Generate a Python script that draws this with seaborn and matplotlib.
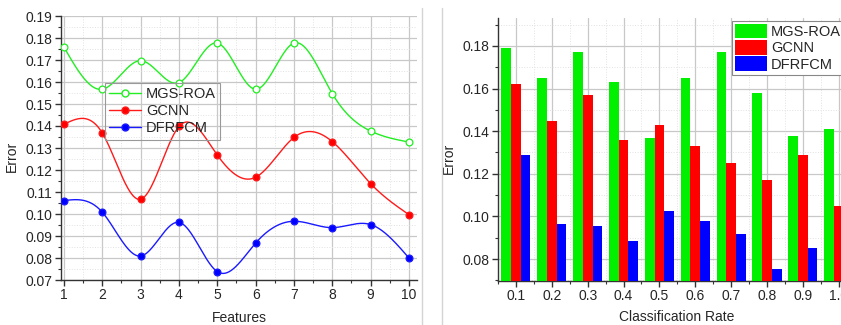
import matplotlib
matplotlib.use('Agg')
import matplotlib.pyplot as plt
from matplotlib.lines import Line2D
from matplotlib.patches import Patch
from matplotlib.ticker import MultipleLocator, FormatStrFormatter
import numpy as np
import pandas as pd
import seaborn as sns

# duomenys - kairysis grafikas (Features)
features = np.arange(1, 11)
mgs_roa_line = [0.1758, 0.1567, 0.1697, 0.1597, 0.1777, 0.1567, 0.1777, 0.1547, 0.1377, 0.1327]
gcnn_line = [0.1408, 0.1368, 0.1067, 0.1398, 0.1268, 0.1167, 0.1348, 0.1329, 0.1138, 0.0997]
dfrfcm_line = [0.1061, 0.1008, 0.0809, 0.0962, 0.0738, 0.0868, 0.0967, 0.0938, 0.0952, 0.0800]

# duomenys - desinysis grafikas (Classification Rate)
rates = ['0.1', '0.2', '0.3', '0.4', '0.5', '0.6', '0.7', '0.8', '0.9', '1.0']
mgs_roa_bar = [0.1789, 0.1648, 0.1770, 0.1630, 0.1369, 0.1648, 0.1770, 0.1578, 0.1378, 0.1410]
gcnn_bar = [0.1619, 0.1450, 0.1569, 0.1359, 0.1430, 0.1330, 0.1250, 0.1170, 0.1290, 0.1050]
dfrfcm_bar = [0.1289, 0.0966, 0.0953, 0.0884, 0.1027, 0.0980, 0.0917, 0.0753, 0.0852, 0.0880]

metodai = ['MGS-ROA', 'GCNN', 'DFRFCM']
spalvos = {'MGS-ROA': '#00f000', 'GCNN': '#ff0000', 'DFRFCM': '#0000ff'}
linijos_spalvos = {'MGS-ROA': '#22ee22', 'GCNN': '#ff1a1a', 'DFRFCM': '#1a1aff'}


def spline(x, y, n=400):
    # naturalus kubinis splainas (kreives glotninimui)
    x = np.asarray(x, float)
    y = np.asarray(y, float)
    k = len(x)
    h = np.diff(x)
    A = np.zeros((k, k))
    b = np.zeros(k)
    A[0, 0] = A[-1, -1] = 1
    for i in range(1, k - 1):
        A[i, i - 1] = h[i - 1]
        A[i, i] = 2 * (h[i - 1] + h[i])
        A[i, i + 1] = h[i]
        b[i] = 6 * ((y[i + 1] - y[i]) / h[i] - (y[i] - y[i - 1]) / h[i - 1])
    M = np.linalg.solve(A, b)
    xs = np.linspace(x[0], x[-1], n)
    idx = np.clip(np.searchsorted(x, xs) - 1, 0, k - 2)
    x0, x1 = x[idx], x[idx + 1]
    hh = x1 - x0
    t0 = x1 - xs
    t1 = xs - x0
    ys = (M[idx] * t0 ** 3 / (6 * hh) + M[idx + 1] * t1 ** 3 / (6 * hh)
          + (y[idx] / hh - M[idx] * hh / 6) * t0 + (y[idx + 1] / hh - M[idx + 1] * hh / 6) * t1)
    return xs, ys


sns.set_style('white')
plt.rcParams['font.family'] = ['Liberation Sans', 'DejaVu Sans']
plt.rcParams['font.size'] = 10

fig = plt.figure(figsize=(8.41, 3.25), dpi=100)
W, H = 841, 325
ax1 = fig.add_axes([61 / W, (H - 280) / H, 356 / W, 264 / H])
ax2 = fig.add_axes([498 / W, (H - 281) / H, 373 / W, 263 / H])

# separatoriai tarp grafiku
for xp in (422, 442):
    fig.add_artist(Line2D([xp / W, xp / W], [0, (H - 8) / H], color='#d4d4d4', lw=1.0,
                          transform=fig.transFigure))


def stilius(ax):
    for s in ['top', 'right']:
        ax.spines[s].set_visible(False)
    for s in ['left', 'bottom']:
        ax.spines[s].set_color('#333333')
        ax.spines[s].set_linewidth(1.0)
    ax.grid(True, which='major', color='#c8c8c8', lw=0.9, ls='-')
    ax.grid(True, which='minor', color='#e2e2e2', lw=0.7, ls=':')
    ax.set_axisbelow(True)
    ax.tick_params(which='major', direction='out', length=4, width=1, color='#333333',
                   labelsize=10, pad=2, bottom=True, left=True)
    ax.tick_params(which='minor', direction='out', length=2, width=0.8, color='#333333',
                   bottom=True, left=True)


# kairysis grafikas
markeriai = {'MGS-ROA': dict(marker='o', facecolor='white'),
             'GCNN': dict(marker='o', facecolor=spalvos['GCNN']),
             'DFRFCM': dict(marker='o', facecolor=spalvos['DFRFCM'])}
for m, vals in zip(metodai, [mgs_roa_line, gcnn_line, dfrfcm_line]):
    xs, ys = spline(features, vals)
    sns.lineplot(x=xs, y=ys, ax=ax1, color=linijos_spalvos[m], lw=1.0, sort=False)
    sns.scatterplot(x=features, y=vals, ax=ax1, marker='o', s=24, zorder=5,
                    facecolor=markeriai[m]['facecolor'], edgecolor=linijos_spalvos[m], linewidth=0.9)

stilius(ax1)
ax1.set_xlim(0.922, 10.21)
ax1.set_ylim(0.07, 0.19)
ax1.xaxis.set_major_locator(MultipleLocator(1))
ax1.xaxis.set_minor_locator(MultipleLocator(0.5))
ax1.yaxis.set_major_locator(MultipleLocator(0.01))
ax1.yaxis.set_minor_locator(MultipleLocator(0.005))
ax1.yaxis.set_major_formatter(FormatStrFormatter('%.2f'))
ax1.set_xlabel('Features', fontsize=10)
ax1.set_ylabel('Error', fontsize=10)
ax1.xaxis.set_label_coords(0.5, -0.117)
ax1.yaxis.set_label_coords(-0.118, 0.47)

rankenos1 = [Line2D([], [], color=linijos_spalvos[m], lw=1.0, marker='o', markersize=5,
                    markerfacecolor=markeriai[m]['facecolor'], markeredgecolor=linijos_spalvos[m])
             for m in metodai]
leg1 = ax1.legend(rankenos1, metodai, loc='upper left', bbox_to_anchor=(0.1236, 0.746),
                  borderaxespad=0, frameon=True, fancybox=False, facecolor='none',
                  edgecolor='#999999', handlelength=2.2, labelspacing=0.2, borderpad=0.3,
                  handletextpad=0.3, fontsize=10.5)
leg1.get_frame().set_linewidth(0.8)
leg1.get_frame().set_alpha(None)

# desinysis grafikas
df = pd.DataFrame({
    'rate': rates * 3,
    'err': mgs_roa_bar + gcnn_bar + dfrfcm_bar,
    'metodas': ['MGS-ROA'] * 10 + ['GCNN'] * 10 + ['DFRFCM'] * 10,
})
sns.barplot(data=df, x='rate', y='err', hue='metodas', hue_order=metodai, palette=spalvos,
            width=0.81, saturation=1, gap=0, edgecolor='none', linewidth=0, legend=False,
            ax=ax2, zorder=3)

stilius(ax2)
ax2.set_xlim(-0.5, 9.9)
ax2.set_ylim(0.0697, 0.1931)
ax2.xaxis.set_minor_locator(MultipleLocator(0.5))
ax2.yaxis.set_major_locator(MultipleLocator(0.02))
ax2.yaxis.set_minor_locator(MultipleLocator(0.01))
ax2.yaxis.set_major_formatter(FormatStrFormatter('%.2f'))
ax2.set_xticks(range(len(rates)))
ax2.set_xticklabels(rates)
ax2.set_xlabel('Classification Rate', fontsize=10)
ax2.set_ylabel('Error', fontsize=10)
ax2.xaxis.set_label_coords(0.48, -0.11)
ax2.yaxis.set_label_coords(-0.113, 0.468)

rankenos2 = [Patch(facecolor=spalvos[m], edgecolor='none') for m in metodai]
leg2 = ax2.legend(rankenos2, metodai, loc='upper left', bbox_to_anchor=(0.627, 0.989),
                  borderaxespad=0, frameon=True, fancybox=False, framealpha=1, edgecolor='#888888',
                  handlelength=2.2, handleheight=1.15, labelspacing=0.08, borderpad=0.2,
                  handletextpad=0.3, fontsize=10.5)
leg2.get_frame().set_linewidth(0.8)

fig.savefig('out.png', dpi=100)
